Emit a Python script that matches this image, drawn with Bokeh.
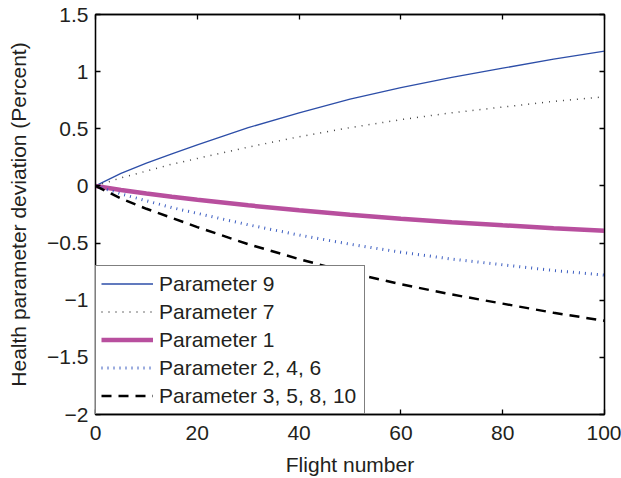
from bokeh.plotting import figure
from bokeh.models import (FixedTicker, LinearAxis, Legend, LegendItem,
                          CustomJSTickFormatter, Range1d)
from bokeh.embed import file_html
from bokeh.resources import INLINE

# ---- data ----
flights = [0, 5, 10, 15, 20, 30, 40, 50, 60, 70, 80, 90, 100]
param_9 = [0, 0.11, 0.20, 0.28, 0.36, 0.51, 0.64, 0.76, 0.86, 0.95, 1.03, 1.11, 1.18]
param_7 = [0, 0.07, 0.13, 0.19, 0.24, 0.34, 0.43, 0.51, 0.58, 0.64, 0.69, 0.74, 0.78]
param_1 = [0, -0.036, -0.066, -0.094, -0.12, -0.17, -0.213, -0.253, -0.287, -0.317, -0.344, -0.37, -0.393]
param_2_4_6 = [0, -0.07, -0.13, -0.19, -0.24, -0.34, -0.43, -0.51, -0.58, -0.64, -0.69, -0.74, -0.78]
param_3_5_8_10 = [0, -0.11, -0.20, -0.28, -0.36, -0.51, -0.64, -0.76, -0.86, -0.95, -1.03, -1.11, -1.18]

labels = ["Parameter 9", "Parameter 7", "Parameter 1",
          "Parameter 2, 4, 6", "Parameter 3, 5, 8, 10"]
x_ticks = [0, 20, 40, 60, 80, 100]
y_ticks = [-2, -1.5, -1, -0.5, 0, 0.5, 1, 1.5]

FONT = "Liberation Sans"
TXT = "#231f20"
FS = "21px"

p = figure(width=621, height=478, output_backend="svg",
           toolbar_location=None, x_range=Range1d(0, 100), y_range=Range1d(-2, 1.5),
           min_border_left=95, min_border_top=14, min_border_right=17,
           min_border_bottom=63)
p.xgrid.visible = False
p.ygrid.visible = False
p.outline_line_color = "black"
p.outline_line_width = 1.3
p.background_fill_color = "white"

r9 = p.line(flights, param_9, line_color="#2d4ea8", line_width=1.3)
r7 = p.line(flights, param_7, line_color="#444444", line_width=1.5, line_dash="1 6")
r1 = p.line(flights, param_1, line_color="#b84f9e", line_width=4.5)
r246 = p.line(flights, param_2_4_6, line_color="#3a5cc0", line_width=3, line_dash="1 5")
r358 = p.line(flights, param_3_5_8_10, line_color="black", line_width=2.5, line_dash="10 7")

fmt = CustomJSTickFormatter(code="return String(tick).replace('-', '\u2212');")

def style_axis(ax, labels_on=True):
    ax.axis_line_color = "black"
    ax.axis_line_width = 1.3
    ax.major_tick_in = 5
    ax.major_tick_out = 0
    ax.major_tick_line_color = "black"
    ax.major_tick_line_width = 1.3
    ax.minor_tick_line_color = None
    ax.major_label_text_font = FONT
    ax.major_label_text_font_size = FS
    ax.major_label_text_color = TXT if labels_on else None
    ax.axis_label_text_font = FONT
    ax.axis_label_text_font_size = FS
    ax.axis_label_text_font_style = "normal"
    ax.axis_label_text_color = TXT

p.xaxis.ticker = FixedTicker(ticks=x_ticks)
p.yaxis.ticker = FixedTicker(ticks=y_ticks)
p.yaxis.formatter = fmt
style_axis(p.xaxis[0])
style_axis(p.yaxis[0])
p.xaxis.axis_label = "Flight number"
p.yaxis.axis_label = "Health parameter deviation (Percent)"
p.xaxis.major_label_standoff = 11
p.yaxis.major_label_standoff = 7
p.xaxis.axis_label_standoff = 10
p.yaxis.axis_label_standoff = 14

top = LinearAxis(ticker=FixedTicker(ticks=x_ticks))
style_axis(top, labels_on=False)
top.major_label_text_font_size = "0px"
top.major_label_standoff = 0
right = LinearAxis(ticker=FixedTicker(ticks=y_ticks))
style_axis(right, labels_on=False)
right.major_label_text_font_size = "0px"
right.major_label_standoff = 0
p.add_layout(top, "above")
p.add_layout(right, "right")

legend = Legend(items=[LegendItem(label=l, renderers=[r]) for l, r in
                       zip(labels, [r9, r7, r1, r246, r358])],
                location="bottom_left", margin=0, padding=5, spacing=3,
                glyph_width=52, glyph_height=25, label_height=25,
                label_standoff=6, label_width=200,
                label_text_font=FONT, label_text_font_size=FS,
                label_text_color=TXT,
                border_line_color="black", border_line_width=1.3,
                background_fill_color="white", background_fill_alpha=1.0)
p.add_layout(legend, "center")

open("out.html", "w").write(file_html(p, INLINE))
